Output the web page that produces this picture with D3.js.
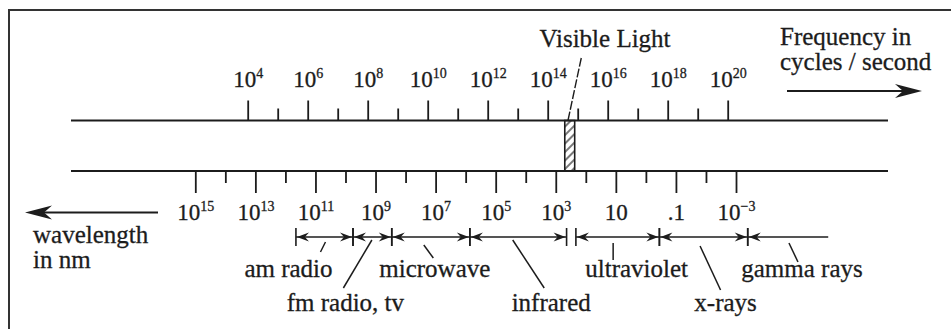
<!DOCTYPE html>
<html>
<head>
<meta charset="utf-8">
<script src="https://cdn.jsdelivr.net/npm/d3@7"></script>
<style>
  html, body { margin: 0; padding: 0; background: #fff; }
  svg { display: block; }
  text { font-family: "Liberation Serif", "Times New Roman", serif; fill: #1c1c1c; stroke: #1c1c1c; stroke-width: 0.3px; }
</style>
</head>
<body>
<svg id="chart" width="951" height="329"></svg>
<script>
// Frequency axis: decades of cycles / second (powers of ten)
const freqMajor = [4, 6, 8, 10, 12, 14, 16, 18, 20];
const freqMinor = [5, 7, 9, 11, 13, 15, 17, 19];
const freqLabels = [["10","4"],["10","6"],["10","8"],["10","10"],["10","12"],["10","14"],["10","16"],["10","18"],["10","20"]];

// Wavelength axis: decades of nanometres
const waveMajor = [15, 13, 11, 9, 7, 5, 3, 1, -1, -3];
const waveMinor = [14, 12, 10, 8, 6, 4, 2, 0, -2];
const waveLabels = [["10","15"],["10","13"],["10","11"],["10","9"],["10","7"],["10","5"],["10","3"],["10",""],[".1",""],["10","\u22123"]];

// Spectrum bands, edges given as log10(wavelength in nm)
const bandNames = ["am radio", "fm radio, tv", "microwave", "infrared", "ultraviolet", "x-rays", "gamma rays"];
const bandLong  = [11.65, 9.75, 8.46, 5.86, 2.33, -0.45, -3.39];
const bandShort = [9.75, 8.46, 5.86, 2.64, -0.45, -3.39, -6.07];
const bandClosed = [true, true, true, true, true, true, false];

// Visible window, log10(wavelength in nm)
const visibleBand = [2.70, 2.37];

// ---- layout ----
const W = 951, H = 329;
const ink = "#1c1c1c";
const topLineY = 120.5, botLineY = 171, bandY = 237;
const lineX0 = 71, lineX1 = 888;

// Label placement for each band: centre offset from band middle, text row,
// and leader line (start dx/y from band middle, end dx/y)
const bandLabelLayout = [
  { dx: -36, row: 0, l: [1, 242, -4, 252] },
  { dx: -27, row: 1, l: [-0.5, 240, -29, 288] },
  { dx: 4,   row: 0, l: [-7, 245, 2.5, 258] },
  { dx: 33,  row: 1, l: [-5.5, 240, 26, 288] },
  { dx: 19,  row: 0, l: [-4.5, 243, -4.5, 260] },
  { dx: 22,  row: 1, l: [-3.5, 246, 17, 290] },
  { dx: 14,  row: 0, l: [1, 243, 10, 262] }
];
const rowBaseline = [277, 311];

const svg = d3.select("#chart");
svg.append("rect").attr("width", W).attr("height", H).attr("fill", "#fff");

// frame (left and top edges)
svg.append("path")
  .attr("d", `M9,${H} L9,10 L${W},10`)
  .attr("fill", "none").attr("stroke", "#333").attr("stroke-width", 2);

const xFreq = d3.scaleLinear().domain([4, 20]).range([247.7, 727.7]);
const xWave = d3.scaleLinear().domain([15, -3]).range([195.3, 736]);

// long rulers
[topLineY, botLineY].forEach(y => {
  svg.append("line").attr("x1", lineX0).attr("x2", lineX1).attr("y1", y).attr("y2", y)
    .attr("stroke", ink).attr("stroke-width", 2);
});

function superscriptLabels(g, labels, majors) {
  g.selectAll(".tick text").each(function (d) {
    const lab = labels[majors.indexOf(d)];
    const t = d3.select(this).text(null)
      .attr("font-family", "Liberation Serif, Times New Roman, serif")
      .attr("font-size", 23).attr("fill", ink);
    t.append("tspan").text(lab[0]);
    if (lab[1]) t.append("tspan").attr("font-size", 14).attr("dy", -9).text(lab[1]);
  });
}

function styleAxis(g) {
  g.select(".domain").remove();
  g.selectAll(".tick line").attr("stroke", ink).attr("stroke-width", 1.8);
}

// frequency ticks above the upper ruler
const gFreqMinor = svg.append("g").attr("transform", `translate(0,${topLineY})`)
  .call(d3.axisTop(xFreq).tickValues(freqMinor).tickSize(12).tickFormat(""));
styleAxis(gFreqMinor);
const gFreq = svg.append("g").attr("transform", `translate(0,${topLineY})`)
  .call(d3.axisTop(xFreq).tickValues(freqMajor).tickSize(20).tickPadding(14));
styleAxis(gFreq);
superscriptLabels(gFreq, freqLabels, freqMajor);

// wavelength ticks below the lower ruler
const gWaveMinor = svg.append("g").attr("transform", `translate(0,${botLineY})`)
  .call(d3.axisBottom(xWave).tickValues(waveMinor).tickSize(12).tickFormat(""));
styleAxis(gWaveMinor);
const gWave = svg.append("g").attr("transform", `translate(0,${botLineY})`)
  .call(d3.axisBottom(xWave).tickValues(waveMajor).tickSize(22).tickPadding(11));
styleAxis(gWave);
superscriptLabels(gWave, waveLabels, waveMajor);

// hatched visible-light window between the rulers
const defs = svg.append("defs");
const pat = defs.append("pattern").attr("id", "hatch").attr("patternUnits", "userSpaceOnUse")
  .attr("width", 6).attr("height", 6).attr("patternTransform", "rotate(-45)");
pat.append("line").attr("x1", 0).attr("y1", 3).attr("x2", 6).attr("y2", 3)
  .attr("stroke", ink).attr("stroke-width", 1.2);
const vx0 = xWave(visibleBand[0]), vx1 = xWave(visibleBand[1]);
svg.append("rect").attr("x", vx0).attr("y", topLineY).attr("width", vx1 - vx0)
  .attr("height", botLineY - topLineY)
  .attr("fill", "url(#hatch)").attr("stroke", ink).attr("stroke-width", 1.6);
svg.append("line").attr("x1", vx0 + 3.2).attr("y1", topLineY)
  .attr("x2", vx0 + 16.5).attr("y2", 58)
  .attr("stroke", ink).attr("stroke-width", 1.4).attr("stroke-dasharray", "9,2");
svg.append("text").attr("x", 605).attr("y", 47).attr("text-anchor", "middle")
  .attr("font-size", 25).text("Visible Light");

// dart-shaped arrowhead; dir = +1 points right, -1 points left
function dart(tipX, y, dir, len, hw, notch) {
  const bx = tipX - dir * len, nx = tipX - dir * (len - notch);
  return `M${tipX},${y} L${bx},${y - hw} L${nx},${y} L${bx},${y + hw} Z`;
}

// frequency direction arrow
svg.append("text").attr("x", 780).attr("y", 45).attr("font-size", 25).text("Frequency in");
svg.append("text").attr("x", 780).attr("y", 70).attr("font-size", 25).text("cycles / second");
svg.append("line").attr("x1", 787).attr("x2", 905).attr("y1", 91).attr("y2", 91)
  .attr("stroke", ink).attr("stroke-width", 2);
svg.append("path").attr("d", dart(922, 91, 1, 27, 7, 8)).attr("fill", ink);

// wavelength direction arrow
svg.append("line").attr("x1", 40).attr("x2", 158).attr("y1", 212.5).attr("y2", 212.5)
  .attr("stroke", ink).attr("stroke-width", 2);
svg.append("path").attr("d", dart(25, 212.5, -1, 27, 7, 8)).attr("fill", ink);
svg.append("text").attr("x", 33).attr("y", 243).attr("font-size", 25).text("wavelength");
svg.append("text").attr("x", 33).attr("y", 268).attr("font-size", 25).text("in nm");

// band ranges with end bars and arrows
const bands = bandNames.map((name, i) => ({
  name, x0: xWave(bandLong[i]), x1: xWave(bandShort[i]), closed: bandClosed[i], lay: bandLabelLayout[i]
}));
const gb = svg.append("g");
bands.forEach(b => {
  gb.append("line").attr("x1", b.x0).attr("x2", b.x1).attr("y1", bandY).attr("y2", bandY)
    .attr("stroke", ink).attr("stroke-width", 1.6);
  const ends = b.closed ? [[b.x0, -1], [b.x1, 1]] : [[b.x0, -1]];
  ends.forEach(([x, dir]) => {
    gb.append("line").attr("x1", x).attr("x2", x).attr("y1", bandY - 9).attr("y2", bandY + 9)
      .attr("stroke", ink).attr("stroke-width", 1.6);
    gb.append("path").attr("d", dart(x - dir * 1, bandY, dir, 12, 4.5, 4)).attr("fill", ink);
  });
  const mid = (b.x0 + b.x1) / 2, L = b.lay.l;
  gb.append("line").attr("x1", mid + L[0]).attr("y1", L[1]).attr("x2", mid + L[2]).attr("y2", L[3])
    .attr("stroke", ink).attr("stroke-width", 1.5);
  gb.append("text").attr("x", mid + b.lay.dx).attr("y", rowBaseline[b.lay.row])
    .attr("text-anchor", "middle").attr("font-size", 25).text(b.name);
});
</script>
</body>
</html>
